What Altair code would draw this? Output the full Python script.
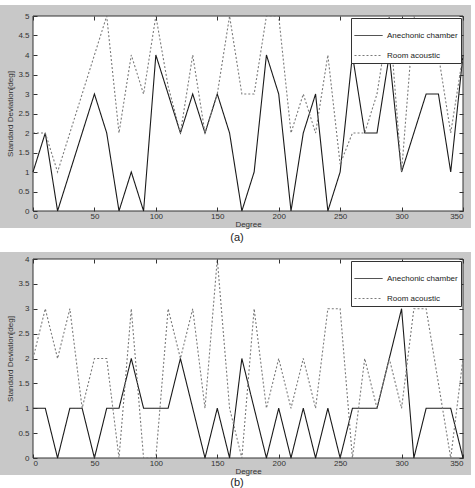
import altair as alt
import pandas as pd

degrees = [0, 10, 20, 30, 40, 50, 60, 70, 80, 90, 100, 110, 120, 130, 140, 150, 160, 170,
           180, 190, 200, 210, 220, 230, 240, 250, 260, 270, 280, 290, 300, 310, 320, 330, 340, 350]

a_anechoic = [1, 2, 0, 1, 2, 3, 2, 0, 1, 0, 4, 3, 2, 3, 2, 3, 2, 0,
              1, 4, 3, 0, 2, 3, 0, 1, 4, 2, 2, 4, 1, 2, 3, 3, 1, 4]
a_room = [2, 2, 1, 2, 3, 4, 5, 2, 4, 3, 5, 3.2, 2, 4, 2, 3, 5, 3,
          3, 5, 5, 2, 3, 2, 4, 1.2, 2, 2, 3, 5, 1, 5, 4, 4, 2, 4]

b_anechoic = [1, 1, 0, 1, 1, 0, 1, 1, 2, 1, 1, 1, 2, 1, 0, 1, 0, 2,
              1, 0, 1, 0, 1, 0, 1, 0, 1, 1, 1, 2, 3, 0, 1, 1, 1, 0]
b_room = [2, 3, 2, 3, 1, 2, 2, 0, 3, 0, 0, 3, 2, 3, 1, 4, 1, 0,
          3, 1, 2, 1, 2, 1, 3, 3, 0, 2, 1, 2, 1, 3, 3, 1.5, 0, 2]

series_names = ["Anechonic chamber", "Room acoustic"]
x_ticks = [0, 50, 100, 150, 200, 250, 300, 350]
a_y_ticks = [0, 0.5, 1, 1.5, 2, 2.5, 3, 3.5, 4, 4.5, 5]
b_y_ticks = [0, 0.5, 1, 1.5, 2, 2.5, 3, 3.5, 4]
captions = ["(a)", "(b)"]
y_title = "Standard Deviation[deg]"
x_title = "Degree"

FONT = "Liberation Sans"
GRAY = "#c8c8c8"
AXC = "#333333"
W = 430

one = pd.DataFrame({"k": [0]})


def long_df(an, rm):
    return pd.DataFrame({
        "deg": degrees + degrees,
        "val": an + rm,
        "series": [series_names[0]] * len(degrees) + [series_names[1]] * len(degrees),
    })


def panel(df, ymax, yticks, h, gray_top, gray_bottom, bound_bottom, caption, cap_y):
    xs = alt.Scale(domain=[0, 350], nice=False, zero=False)
    ys = alt.Scale(domain=[0, ymax], nice=False)
    bound = alt.Chart(one).mark_rect(fill="white", strokeWidth=0).encode(
        x=alt.value(-33), x2=alt.value(W + 8), y=alt.value(gray_top), y2=alt.value(bound_bottom))
    gray = alt.Chart(one).mark_rect(fill=GRAY, strokeWidth=0).encode(
        x=alt.value(-33), x2=alt.value(W + 8), y=alt.value(gray_top), y2=alt.value(gray_bottom))
    frame = alt.Chart(one).mark_rect(fill="white", stroke=AXC, strokeWidth=1).encode(
        x=alt.value(0), x2=alt.value(W), y=alt.value(0), y2=alt.value(h))
    cap = alt.Chart(one).mark_text(text=caption, font=FONT, fontSize=11, color="#222222",
                                   baseline="middle", align="center").encode(
        x=alt.value(204), y=alt.value(cap_y))
    leg = alt.Legend(orient="top-right", offset=2, fillColor="white", strokeColor=AXC,
                     padding=3, title=None, symbolType="stroke", symbolSize=784,
                     symbolStrokeWidth=1, labelFont=FONT, labelFontSize=8,
                     labelColor="#222222", rowPadding=1, zindex=2, labelOffset=4)
    lines = alt.Chart(df).mark_line(strokeWidth=1.1).encode(
        x=alt.X("deg:Q", scale=xs,
                axis=alt.Axis(orient="bottom", values=x_ticks, title=x_title, tickSize=0,
                              domain=False, labelPadding=1, titlePadding=0, zindex=1)),
        y=alt.Y("val:Q", scale=ys,
                axis=alt.Axis(orient="left", values=yticks, format="~g", title=y_title,
                              tickSize=0, domain=False, labelPadding=4, titlePadding=3, zindex=1)),
        color=alt.Color("series:N", scale=alt.Scale(domain=series_names,
                                                     range=["#1a1a1a", "#7a7a7a"]), legend=leg),
        strokeDash=alt.StrokeDash("series:N", scale=alt.Scale(domain=series_names,
                                                              range=[[1, 0], [2, 2]]), legend=leg),
    )

    def ticks(xo, yo):
        return alt.Chart(df).mark_point(opacity=0).encode(
            x=alt.X("deg:Q", scale=xs,
                    axis=alt.Axis(orient=xo, values=x_ticks, labels=False, domain=False,
                                  title=None, tickSize=4, offset=-4, tickColor=AXC, zindex=1)),
            y=alt.Y("val:Q", scale=ys,
                    axis=alt.Axis(orient=yo, values=yticks, labels=False, domain=False,
                                  title=None, tickSize=4, offset=-4, tickColor=AXC, zindex=1)),
        )

    return alt.layer(bound, gray, frame, lines, ticks("bottom", "left"), ticks("top", "right"), cap).resolve_axis(
        x="independent", y="independent").properties(width=W, height=h)


pa = panel(long_df(a_anechoic, a_room), 5, a_y_ticks, 195, -11, 212, 234, captions[0], 222)
pb = panel(long_df(b_anechoic, b_room), 4, b_y_ticks, 199, -7, 216, 240, captions[1], 224)

chart = alt.vconcat(pa, pb, spacing=2).resolve_scale(
    color="independent", strokeDash="independent"
).properties(
    padding={"left": 0, "top": 5, "right": 4, "bottom": 0},
    background="white",
).configure_view(stroke=None).configure_axis(
    grid=False, labelFont=FONT, labelFontSize=8, labelColor=AXC,
    titleFont=FONT, titleFontSize=8, titleFontWeight="normal", titleColor=AXC,
)

chart.save("out.html", embed_options={"renderer": "svg", "actions": False})
